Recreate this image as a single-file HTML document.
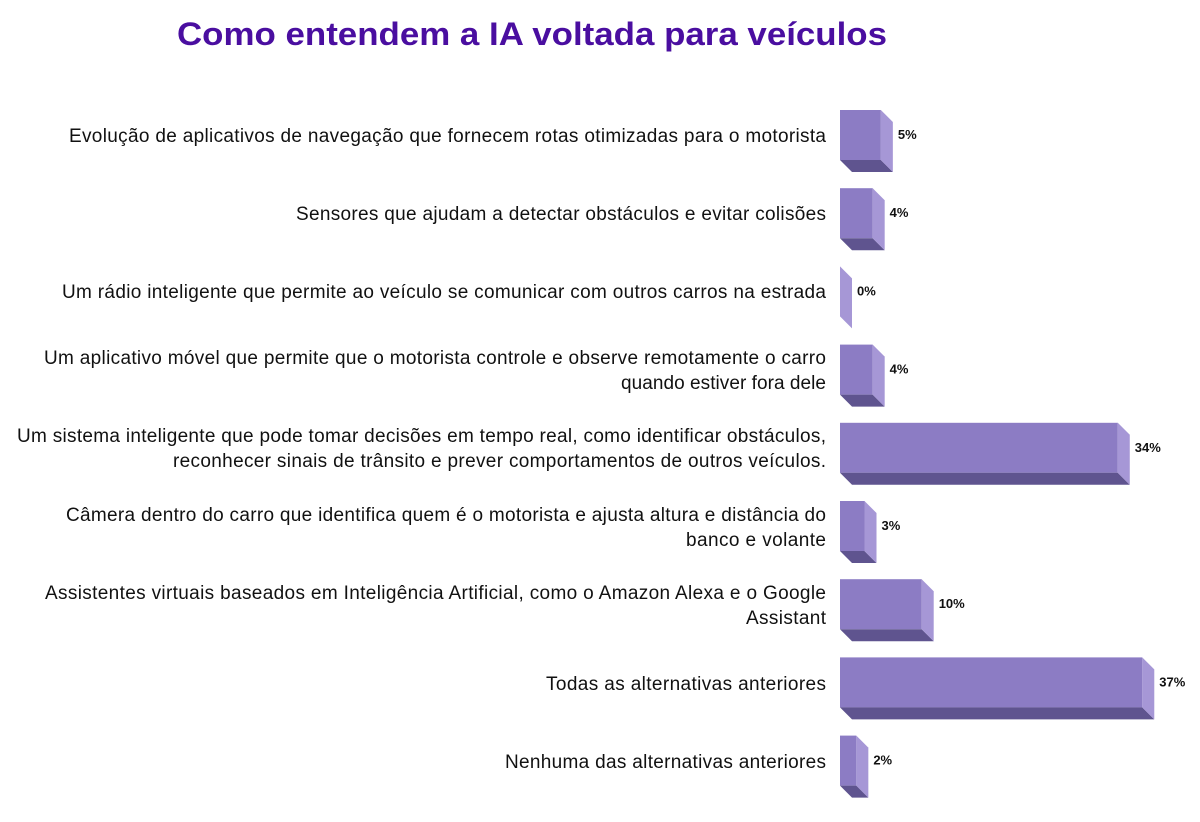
<!DOCTYPE html>
<html><head><meta charset="utf-8"><style>body{margin:0;background:#fff}</style></head>
<body>
<svg width="1200" height="817" xmlns="http://www.w3.org/2000/svg" font-family="Liberation Sans, Arial, sans-serif">
<rect width="1200" height="817" fill="#fff"/>
<text x="532" y="45" text-anchor="middle" font-size="32" font-weight="bold" fill="#4a0ea0" textLength="710" lengthAdjust="spacingAndGlyphs">Como entendem a IA voltada para veículos</text>
<g id="bars"></g>
<g font-size="19" fill="#111" text-anchor="end" lengthAdjust="spacingAndGlyphs">
<text x="826" y="142" textLength="757">Evolução de aplicativos de navegação que fornecem rotas otimizadas para o motorista</text>
<text x="826" y="220" textLength="530">Sensores que ajudam a detectar obstáculos e evitar colisões</text>
<text x="826" y="298" textLength="764">Um rádio inteligente que permite ao veículo se comunicar com outros carros na estrada</text>
<text x="826" y="364" textLength="782">Um aplicativo móvel que permite que o motorista controle e observe remotamente o carro</text>
<text x="826" y="389" textLength="205">quando estiver fora dele</text>
<text x="826" y="442" textLength="809">Um sistema inteligente que pode tomar decisões em tempo real, como identificar obstáculos,</text>
<text x="826" y="467" textLength="653">reconhecer sinais de trânsito e prever comportamentos de outros veículos.</text>
<text x="826" y="521" textLength="760">Câmera dentro do carro que identifica quem é o motorista e ajusta altura e distância do</text>
<text x="826" y="546" textLength="140">banco e volante</text>
<text x="826" y="599" textLength="781">Assistentes virtuais baseados em Inteligência Artificial, como o Amazon Alexa e o Google</text>
<text x="826" y="624" textLength="80">Assistant</text>
<text x="826" y="690" textLength="280">Todas as alternativas anteriores</text>
<text x="826" y="768" textLength="321">Nenhuma das alternativas anteriores</text>
</g>
<script>
var vals=[5,4,0,4,34,3,10,37,2],g=document.getElementById('bars'),ns='http://www.w3.org/2000/svg';
function el(t,a,txt){var e=document.createElementNS(ns,t);for(var k in a)e.setAttribute(k,a[k]);if(txt)e.textContent=txt;g.appendChild(e);}
vals.forEach(function(v,i){
 var y=110+i*78.2,x0=840,x1=840+v*8.17,d=12,h=50;
 if(v>0){
  el('rect',{x:x0,y:y,width:x1-x0,height:h,fill:'#8c7cc4'});
  el('polygon',{points:x0+','+(y+h)+' '+x1+','+(y+h)+' '+(x1+d)+','+(y+h+d)+' '+(x0+d)+','+(y+h+d),fill:'#5f548f'});
 }
 el('polygon',{points:x1+','+y+' '+(x1+d)+','+(y+d)+' '+(x1+d)+','+(y+h+d)+' '+x1+','+(y+h),fill:'#a697d6'});
 el('text',{x:x1+d+5,y:y+29,'font-size':13,'font-weight':'bold',fill:'#111'},v+'%');
});
</script>
</svg>
</body></html>
